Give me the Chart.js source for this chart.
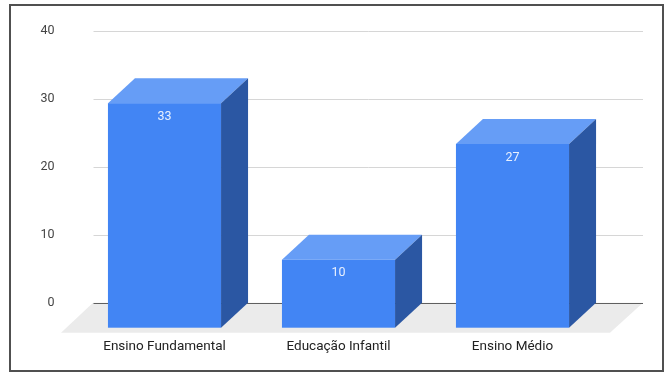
<!DOCTYPE html>
<html>
<head>
<meta charset="utf-8">
<script src="https://cdn.jsdelivr.net/npm/chart.js@4.4.0/dist/chart.umd.min.js"></script>
<style>
  body { margin: 0; background: #fff; }
  #wrap { position: relative; width: 667px; height: 377px; }
  #frame {
    position: absolute; left: 9px; top: 4px; width: 651px; height: 364px;
    border: 2px solid #505050; pointer-events: none;
  }
</style>
</head>
<body>
<div id="wrap">
  <canvas id="chart" width="667" height="377"></canvas>
  <div id="frame"></div>
</div>
<script>
// dados
const categories = ['Ensino Fundamental', 'Educação Infantil', 'Ensino Médio'];
const values = [33, 10, 27];
const yTicks = [0, 10, 20, 30, 40];

// deslocamento da profundidade 3D
const DX = 27, DY = 25;

const box3d = {
  id: 'box3d',
  beforeDatasetsDraw(chart) {
    const { ctx, chartArea, scales } = chart;
    const y0 = scales.y.getPixelForValue(0);
    ctx.save();
    // piso
    ctx.fillStyle = '#ebebeb';
    ctx.beginPath();
    ctx.moveTo(chartArea.left + 15.5, y0);
    ctx.lineTo(chartArea.right + 43.5, y0);
    ctx.lineTo(chartArea.right + 10.5, y0 + 30);
    ctx.lineTo(chartArea.left - 16.5, y0 + 30);
    ctx.closePath();
    ctx.fill();
    // linhas de grade
    ctx.lineWidth = 1;
    yTicks.forEach(t => {
      const y = Math.round(scales.y.getPixelForValue(t)) + 0.5;
      ctx.strokeStyle = t === 0 ? '#5f5f5f' : '#d6d6d6';
      ctx.beginPath();
      ctx.moveTo(chartArea.left + 16, y);
      ctx.lineTo(chartArea.right + 43.5, y);
      ctx.stroke();
    });
    ctx.restore();
  },
  afterDatasetsDraw(chart) {
    const { ctx } = chart;
    const meta = chart.getDatasetMeta(0);
    ctx.save();
    meta.data.forEach((bar, i) => {
      const w = bar.width;
      const L = bar.x - w / 2, R = bar.x + w / 2;
      const top = bar.y + DY, bot = bar.base + DY;
      // frente
      ctx.fillStyle = '#4285f4';
      ctx.fillRect(L, top, w, bot - top);
      // topo
      ctx.fillStyle = '#669df6';
      ctx.beginPath();
      ctx.moveTo(L, top);
      ctx.lineTo(L + DX, top - DY);
      ctx.lineTo(R + DX, top - DY);
      ctx.lineTo(R, top);
      ctx.closePath();
      ctx.fill();
      // lateral
      ctx.fillStyle = '#2b57a3';
      ctx.beginPath();
      ctx.moveTo(R, top);
      ctx.lineTo(R + DX, top - DY);
      ctx.lineTo(R + DX, bot - DY);
      ctx.lineTo(R, bot);
      ctx.closePath();
      ctx.fill();
      // rótulo
      ctx.fillStyle = '#e8f0fe';
      ctx.font = '12.5px Roboto';
      ctx.textAlign = 'center';
      ctx.textBaseline = 'middle';
      ctx.fillText(String(values[i]), bar.x, top + 13.5);
    });
    ctx.restore();
  }
};

new Chart(document.getElementById('chart'), {
  type: 'bar',
  data: {
    labels: categories,
    datasets: [{
      data: values,
      backgroundColor: 'rgba(0,0,0,0)',
      categoryPercentage: 1,
      barPercentage: 0.65
    }]
  },
  options: {
    responsive: false,
    animation: false,
    events: [],
    layout: { padding: { top: 30, right: 67.5, left: 0, bottom: 0 } },
    plugins: { legend: { display: false }, tooltip: { enabled: false } },
    scales: {
      y: {
        min: 0,
        max: 40,
        ticks: { stepSize: 10, padding: 23, color: '#444', font: { family: 'Roboto', size: 12.5 } },
        grid: { display: false, drawTicks: false },
        border: { display: false },
        afterFit(s) { s.width = 77.5; }
      },
      x: {
        ticks: { padding: 35.5, color: '#222', font: { family: 'Roboto', size: 13.5 } },
        grid: { display: false, drawTicks: false },
        border: { display: false },
        afterFit(s) { s.height = 74.3; }
      }
    }
  },
  plugins: [box3d]
});
</script>
</body>
</html>
